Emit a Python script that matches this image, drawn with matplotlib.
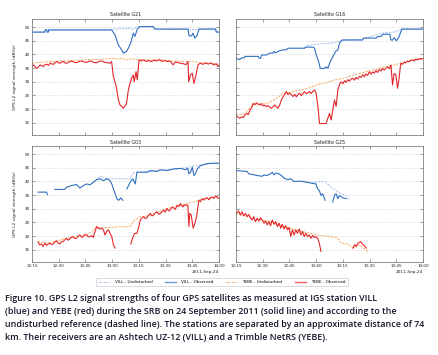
import numpy as np
import matplotlib
matplotlib.use('Agg')
import matplotlib.pyplot as plt
from matplotlib.lines import Line2D

nan = np.nan

# time axis: minutes after 12:15 UT
tick_pos = [0, 15, 30, 45, 60, 75, 90, 105]
tick_labels = ['12:15', '12:30', '12:45', '13:00', '13:15', '13:30', '13:45', '14:00']

# ---- Satellite G21 ----
g21_vill_obs_t = [0, 7.2, 7.4, 8.3, 8.5, 9.2, 9.4, 44.7, 46.6, 48.5, 50.3, 51.3, 53.1, 54.1, 55.4, 56.9,
                  57.8, 59.1, 60.6, 68.1, 69.0, 87.6, 88.2, 89.5, 90.4, 91.4, 92.7, 93.8, 103.1, 103.5, 105]
g21_vill_obs = [48.2, 48.2, 49.0, 49.0, 48.2, 48.2, 49.0, 49.0, 47.2, 43.5, 41.7, 40.5, 41.1, 42.3, 44.1, 47.8,
                46.6, 49.3, 50.2, 50.2, 49.3, 49.3, 46.8, 46.8, 47.8, 46.0, 47.0, 49.3, 49.3, 48.2, 48.2]
g21_vill_und_t = [0, 7.2, 7.4, 44.7, 46, 47.5, 49, 50.5, 52, 53.5, 55, 56.5, 58, 59.5, 68.1, 69.0, 86, 88, 90,
                  92, 94, 103.1, 103.5, 105]
g21_vill_und = [48.2, 48.2, 49.0, 49.0, 49.6, 49.0, 49.8, 49.2, 49.9, 49.3, 49.8, 49.2, 49.7, 50.2, 50.2, 49.3,
                49.3, 49.0, 49.1, 49.0, 49.3, 49.3, 48.2, 48.2]
g21_yebe_obs_t = [0, 0.9, 1.8, 2.8, 3.7, 4.6, 5.5, 6.5, 7.4, 8.4, 9.3, 10.2, 11.2, 12.1, 13.0, 14.0, 14.9, 15.8,
                  16.8, 17.7, 18.6, 19.6, 21.0, 22.4, 23.8, 25.2, 26.6, 28.0, 29.4, 30.8, 32.2, 33.6, 35.0, 36.4,
                  37.8, 39.2, 40.6, 42.0, 43.8, 44.7, 45.7, 46.6, 47.5, 48.5, 49.4, 50.3, 51.3, 52.2, 53.1, 54.1,
                  55.0, 55.9, 56.9, 57.4, 58.4, 59.1, 60.1, 61.3, 62.5, 64, 65.5, 67, 68.5, 70, 71.5, 73, 74.5, 76,
                  77.5, 79.3, 80.5, 82, 83.5, 85, 86.5, 87.6, 88.0, 88.9, 90.0, 90.9, 91.9, 93.2, 94.5, 96, 97.5,
                  99, 100.5, 102, 103.5, 104.4, 105]
g21_yebe_obs = [35.6, 36.2, 35.4, 34.9, 35.5, 36.2, 35.8, 35.6, 36.3, 36.4, 36.0, 36.8, 36.5, 36.4, 37.0, 37.4,
                36.9, 36.8, 37.3, 37.4, 36.9, 36.8, 37.3, 37.6, 37.1, 37.0, 37.5, 37.6, 37.2, 37.1, 37.6, 37.5,
                37.0, 37.0, 37.5, 37.6, 37.2, 37.0, 36.8, 37.4, 31.9, 30.0, 27.6, 23.3, 21.5, 21.1, 20.3, 21.1,
                22.1, 27.0, 29.4, 31.3, 32.5, 30.0, 33.7, 30.7, 38.0, 37.6, 38.0, 37.5, 37.8, 37.4, 37.9, 37.6,
                38.1, 37.5, 37.8, 37.4, 37.6, 36.2, 37.3, 37.0, 36.8, 36.6, 36.3, 37.4, 30.0, 32.5, 33.1, 29.4,
                31.9, 36.2, 36.8, 36.4, 36.9, 36.5, 36.9, 36.2, 36.6, 35.6, 36.0]
g21_yebe_und_t = [0, 5, 10.2, 15, 20, 25, 28.9, 33, 38, 42, 45.7, 48, 50, 53.1, 56, 60, 66.2, 72, 79.3, 86.7,
                  90, 94.2, 100, 105]
g21_yebe_und = [36.8, 37.1, 37.4, 37.6, 37.7, 37.9, 38.0, 38.2, 38.1, 38.4, 38.6, 38.3, 38.6, 38.0, 38.4, 38.2,
                38.0, 38.1, 37.6, 37.4, 37.5, 37.0, 36.8, 36.4]

# ---- Satellite G16 ----
g16_vill_obs_t = [0, 1.3, 2.2, 3.2, 4.8, 5.0, 12.5, 13.0, 13.8, 14.3, 17.1, 19.0, 20.8, 21.3, 22.2, 24.6, 26.4,
                  28.3, 29.2, 38.5, 39.5, 43.2, 44.1, 45.1, 46.4, 47.3, 49.7, 50.7, 51.6, 52.9, 54.4, 55.9, 57.2,
                  58.1, 59.6, 71.1, 71.5, 78.6, 79.5, 81.4, 82.3, 86.4, 87.0, 88.0, 88.8, 90.1, 91.6, 93.1, 105]
g16_vill_obs = [38.8, 38.2, 38.2, 38.8, 38.8, 39.3, 39.3, 38.6, 38.6, 39.8, 39.8, 40.5, 40.5, 41.1, 40.6, 41.4,
                41.7, 41.7, 42.3, 42.3, 42.7, 42.7, 42.3, 39.8, 37.4, 34.9, 34.9, 35.5, 34.9, 37.4, 39.2, 41.1,
                41.7, 44.1, 45.3, 45.3, 46.0, 46.0, 46.6, 46.6, 47.4, 47.4, 45.3, 45.3, 46.2, 45.0, 46.6, 49.3, 49.3]
g16_vill_und_t = [38.5, 39.5, 44, 48, 52, 56, 59.6, 71, 80, 84, 88, 91.6, 93.1, 105]
g16_vill_und = [42.3, 43.3, 43.6, 43.9, 44.1, 44.4, 45.3, 45.6, 47.6, 48.0, 48.2, 48.7, 49.3, 49.3]
g16_yebe_obs_t = [0, 1.1, 2.2, 3.2, 4.1, 5.0, 6.0, 6.9, 7.8, 8.8, 9.7, 10.6, 11.5, 12.5, 13.4, 14.3, 15.2, 16.2,
                  17.1, 18.0, 19.0, 19.9, 20.9, 21.8, 22.7, 23.6, 24.6, 25.5, 26.4, 27.4, 28.3, 29.2, 30.2, 31.1,
                  32.0, 33.0, 33.9, 34.8, 35.7, 36.7, 37.6, 38.5, 39.5, 40.4, 41.3, 42.2, 43.2, 44.1, 45.0, 46.0,
                  46.9, 50.6, 51.5, 52.5, 53.4, 54.3, 55.3, 56.2, 57.2, 58.1, 59.0, 60.0, 60.9, 61.8, 62.8, 63.7,
                  64.6, 65.5, 66.5, 67.4, 68.3, 69.3, 70.2, 71.1, 72.1, 73.0, 73.9, 74.9, 75.8, 76.7, 77.7, 78.6,
                  79.5, 80.4, 81.4, 82.3, 83.3, 84.2, 85.1, 86.1, 87.0, 87.9, 88.8, 89.8, 90.7, 91.6, 92.5, 93.5,
                  94.4, 95.3, 96.3, 97.2, 98.1, 99.1, 100.0, 100.9, 101.9, 102.8, 103.7, 105]
g16_yebe_obs = [17.8, 17.0, 16.6, 17.2, 16.9, 17.8, 18.4, 18.0, 19.6, 20.5, 22.1, 21.6, 22.3, 21.8, 21.5, 22.0,
                21.2, 21.4, 20.9, 21.3, 20.6, 20.3, 21.0, 21.5, 20.8, 20.3, 21.6, 23.4, 24.5, 25.5, 26.4, 25.3,
                25.9, 25.2, 24.6, 25.4, 24.5, 25.3, 25.8, 24.9, 25.8, 26.4, 25.6, 26.0, 26.4, 25.7, 26.5, 27.0,
                25.8, 20.9, 14.7, 14.7, 16.5, 18.4, 16.0, 19.5, 23.3, 21.0, 27.0, 29.0, 30.0, 29.3, 30.4, 29.8,
                30.8, 30.2, 31.0, 31.3, 30.6, 31.6, 31.0, 32.0, 31.6, 32.6, 31.8, 32.9, 32.3, 33.7, 32.8, 33.6,
                33.2, 34.1, 33.4, 34.5, 34.0, 34.8, 34.3, 35.0, 35.4, 34.8, 36.2, 28.8, 33.1, 32.5, 27.6, 31.5,
                36.8, 36.4, 37.2, 36.9, 37.6, 37.3, 37.9, 38.0, 37.6, 38.3, 38.0, 38.5, 38.2, 38.6]
g16_yebe_und_t = [0, 5, 9.7, 17.1, 22, 26.4, 33.9, 40.5, 46, 50.6, 55, 60, 65.5, 70, 75, 80, 84.2, 88, 93.5,
                  99, 105]
g16_yebe_und = [17.8, 18.3, 21.8, 22.0, 23.5, 25.8, 26.6, 27.6, 29.0, 29.6, 30.6, 31.2, 32.4, 33.2, 34.0, 34.8,
                35.6, 36.0, 37.0, 38.0, 38.6]

# ---- Satellite G03 ----
g03_vill_obs_t = [3.4, 8.1, 8.7, 10, 12.8, 18.4, 19.4, 22.2, 25.0, 26.9, 28.8, 30.7, 32.6, 34.4, 36.3, 38.2,
                  40.1, 42.0, 43.8, 44.8, 45.7, 46.7, 47.6, 48.6, 49.9, 51.0, 52, 53.3, 54.2, 55.1, 56.6, 58.0,
                  58.9, 64.5, 66.4, 70.2, 72.1, 75.8, 79.6, 83.4, 86.2, 87.5, 88.1, 89.0, 90.0, 90.9, 91.8, 92.8,
                  94.6, 97.5, 99.4, 102.2, 105]
g03_vill_obs = [36.1, 36.1, 35.2, nan, 37.1, 37.1, 37.9, 38.5, 38.9, 37.6, 38.5, 39.1, 38.8, 39.7, 40.7, 41.0,
                40.3, 41.0, 40.3, 39.1, 37.3, 35.5, 33.7, 33.1, 34.0, 33.1, nan, 37.3, 38.5, 39.7, 41.0, 39.1,
                43.4, 43.4, 44.0, 43.7, 44.3, 44.0, 44.6, 44.8, 44.3, 44.8, 42.8, 43.4, 45.2, 42.2, 42.8, 44.6,
                45.8, 46.4, 46.6, 46.7, 46.7]
g03_vill_und_t = [34.4, 36.3, 38.2, 40.1, 42.0, 55.1, 56.6, 58.0, 64.5, 86.2, 89.0, 94.6, 97.5, 105]
g03_vill_und = [39.7, 40.7, 41.9, 41.5, 41.0, 41.0, 42.8, 43.4, 43.4, 45.0, 45.5, 46.0, 46.4, 46.7]
g03_yebe_obs_t = [3.4, 4.3, 5.3, 6.2, 7.2, 8.1, 9.0, 10.0, 11.0, 11.9, 12.8, 13.7, 14.6, 15.6, 16.5, 17.5, 18.4,
                  19.4, 20.3, 21.3, 22.2, 23.1, 24.0, 25.0, 26.0, 26.9, 27.8, 28.8, 29.7, 30.7, 31.6, 32.6, 33.5,
                  34.4, 35.4, 36.3, 37.3, 38.2, 39.2, 40.1, 41.0, 42.0, 42.9, 43.8, 44.8, 45.7, 46.7, 50, 55.5,
                  56.5, 57.6, 58.9, 59.8, 60.8, 61.7, 62.7, 63.6, 64.5, 65.5, 66.4, 67.4, 68.3, 69.2, 70.2, 71.1,
                  72.1, 73.0, 74.0, 74.9, 75.8, 76.8, 77.7, 78.7, 79.6, 80.5, 81.5, 82.4, 83.4, 84.2, 84.9, 85.5,
                  86.2, 87.5, 88.1, 88.6, 89.4, 90.5, 91.5, 92.4, 93.7, 94.6, 95.6, 96.5, 97.5, 98.4, 99.3, 100.2,
                  101.2, 102.1, 103.1, 104.0, 105]
g03_yebe_obs = [17.8, 16.8, 17.1, 16.2, 17.4, 16.6, 17.0, 17.4, 16.9, 17.1, 17.8, 18.3, 17.5, 17.1, 17.9, 18.0,
                18.6, 19.2, 18.5, 19.0, 19.6, 19.8, 19.1, 19.2, 20.0, 20.4, 19.6, 19.8, 20.5, 20.4, 19.7, 19.8,
                20.2, 19.5, 21.7, 23.5, 22.9, 22.6, 22.9, 22.3, 20.4, 21.7, 22.3, 21.0, 19.8, 16.8, 15.6, nan,
                17.1, 19.2, 21.0, 21.0, 22.9, 25.9, 26.6, 27.1, 26.4, 26.7, 27.6, 28.3, 27.4, 27.7, 28.5, 28.9,
                28.0, 28.3, 29.0, 29.5, 28.8, 30.1, 29.2, 29.7, 30.6, 30.3, 29.8, 31.3, 30.8, 31.9, 31.0, 30.7,
                31.5, 31.3, 31.3, 23.5, 28.3, 27.7, 22.9, 24.7, 27.1, 33.1, 32.6, 33.7, 33.2, 33.9, 34.0, 33.3,
                34.1, 34.3, 33.8, 34.7, 34.2, 33.7]
g03_yebe_und_t = [3.4, 8.1, 15, 19.4, 24, 28.8, 32, 35.4, 38.2, 43.8, 49, 54, 55.1, 57.6, 60.5, 64.5, 70, 75.8,
                  80, 83.4, 87, 90.9, 94.6, 100, 105]
g03_yebe_und = [18.0, 17.4, 18.4, 19.2, 19.8, 20.4, 20.8, 22.9, 23.1, 23.1, 23.5, 23.3, 23.6, 25.9, 27.1, 27.4,
                28.6, 30.1, 30.8, 31.3, 31.9, 32.5, 33.4, 33.9, 34.3]

# ---- Satellite G25 ----
g25_vill_obs_t = [0, 6.2, 7.2, 11.9, 14.7, 15.7, 17.5, 19.4, 20.4, 21.3, 22.3, 24.2, 26.0, 27.0, 28.9, 30.8,
                  32.6, 36.4, 40.2, 42.1, 44.9, 45.8, 46.8, 47.7, 48.7, 50.0, 52, 54.3, 55.3, 56.2, 57.2, 58.1,
                  60.0, 61.9]
g25_vill_obs = [44.0, 43.7, 42.8, 42.2, 41.9, 42.4, 42.2, 42.8, 43.4, 42.4, 43.1, 42.8, 41.9, 41.2, 40.7, 41.0,
                40.0, 40.1, 39.7, 39.4, 39.1, 37.3, 36.7, 34.9, 35.5, 33.1, nan, 32.5, 34.9, 35.5, 33.7, 34.9,
                34.0, 33.7]
g25_vill_und_t = [36.4, 40.2, 44.9, 46.8, 49.6, 51.5, 53.4, 56.2, 59.1, 61.9, 63.8]
g25_vill_und = [40.1, 39.7, 39.7, 40.0, 40.0, 39.1, 37.9, 36.7, 35.5, 34.9, 33.1]
g25_yebe_obs_t = [0, 1.5, 2.5, 3.4, 4.3, 5.3, 6.2, 7.2, 8.1, 9.1, 10.0, 10.9, 11.9, 12.8, 13.8, 14.7, 15.7, 16.6,
                  17.5, 18.5, 19.4, 20.4, 21.3, 22.3, 23.2, 24.2, 25.1, 26.0, 27.0, 27.9, 28.9, 29.8, 30.8, 31.7,
                  32.6, 33.6, 34.5, 35.5, 36.4, 37.4, 38.3, 39.2, 40.2, 41.1, 42.1, 43.0, 44.0, 44.9, 45.8, 46.8,
                  47.7, 55, 65.7, 66.6, 67.5, 68.5, 70.0, 70.9, 71.9, 73.2]
g25_yebe_obs = [28.3, 29.1, 27.7, 28.9, 27.4, 28.3, 27.1, 27.9, 26.7, 25.9, 27.1, 25.3, 26.5, 25.5, 26.7, 25.9,
                24.7, 25.5, 24.1, 25.3, 23.8, 25.9, 24.3, 25.3, 23.5, 24.7, 22.9, 24.3, 22.6, 23.8, 22.3, 23.1,
                19.8, 22.3, 20.4, 22.3, 21.0, 22.6, 20.4, 21.7, 19.8, 21.0, 19.8, 20.4, 19.2, 20.2, 19.5, 19.8,
                19.2, 17.4, 14.4, nan, 15.6, 16.8, 16.2, 17.4, 18.0, 17.1, 16.6, 15.6]
g25_yebe_und_t = [0, 10, 19.4, 28.9, 38.3, 45.8, 49.6, 53.4, 56.2, 57.2, 59.1, 62.8, 65.7, 67.5, 69.4, 71.3,
                  73.2, 74.2]
g25_yebe_und = [28.3, 26.5, 25.3, 23.1, 21.5, 20.4, 20.0, 19.8, 19.5, 19.2, 17.4, 17.1, 15.6, 16.2, 16.8, 15.6,
                15.0, 13.8]

panels = [
    ('Satellite G21', g21_vill_und_t, g21_vill_und, g21_vill_obs_t, g21_vill_obs,
     g21_yebe_und_t, g21_yebe_und, g21_yebe_obs_t, g21_yebe_obs),
    ('Satellite G16', g16_vill_und_t, g16_vill_und, g16_vill_obs_t, g16_vill_obs,
     g16_yebe_und_t, g16_yebe_und, g16_yebe_obs_t, g16_yebe_obs),
    ('Satellite G03', g03_vill_und_t, g03_vill_und, g03_vill_obs_t, g03_vill_obs,
     g03_yebe_und_t, g03_yebe_und, g03_yebe_obs_t, g03_yebe_obs),
    ('Satellite G25', g25_vill_und_t, g25_vill_und, g25_vill_obs_t, g25_vill_obs,
     g25_yebe_und_t, g25_yebe_und, g25_yebe_obs_t, g25_yebe_obs),
]

C_VILL_UND = '#a7c0ec'
C_VILL_OBS = '#2f6fc1'
C_YEBE_UND = '#f6ac66'
C_YEBE_OBS = '#e3262b'
DASH = (0, (2.4, 1.2))

fig = plt.figure(figsize=(4.39, 3.55), dpi=100)
W, H = 439.0, 355.0
boxes = [(32, 19), (236, 19), (32, 146), (236, 146)]  # left, top in px

for i, (title, vut, vu, vot, vo, yut, yu, yot, yo) in enumerate(panels):
    x0, y0 = boxes[i]
    ax = fig.add_axes([x0 / W, 1 - (y0 + 116) / H, 187 / W, 116 / H])
    ax.plot(vut, vu, color=C_VILL_UND, lw=0.7, linestyle=DASH)
    ax.plot(vot, vo, color=C_VILL_OBS, lw=0.8)
    ax.plot(yut, yu, color=C_YEBE_UND, lw=0.7, linestyle=DASH)
    ax.plot(yot, yo, color=C_YEBE_OBS, lw=0.8)

    ax.set_xlim(0, 105)
    ax.set_ylim(10.5, 53)
    ax.set_xticks(tick_pos)
    ax.set_yticks([15, 20, 25, 30, 35, 40, 45, 50])
    ax.yaxis.grid(True, linestyle=(0, (2, 2)), color='#c8c8c8', lw=0.4)
    ax.set_axisbelow(True)
    ax.tick_params(direction='in', length=2, width=0.4, top=True, right=True,
                   labelsize=3, pad=1.5, colors='#555555', labelcolor='#222222')
    for s in ax.spines.values():
        s.set_color('#808080')
        s.set_linewidth(0.6)
    ax.set_title(title, fontsize=3.4, pad=1.8, color='#222222')

    if i < 2:
        ax.set_xticklabels([])
    else:
        ax.set_xticklabels(tick_labels)
        ax.text(1.0, -0.085, '2011-Sep-24', transform=ax.transAxes, ha='right', va='center',
                fontsize=3.1, color='#222222')
    if i % 2 == 1:
        ax.set_yticklabels([])
    else:
        ax.set_ylabel('GPS L2 signal strength (dBHz)', fontsize=3.2, color='#222222')
        ax.yaxis.set_label_coords(-0.08, 0.5)

handles = [Line2D([], [], color=C_VILL_UND, lw=1.0, linestyle=DASH, alpha=0.7),
           Line2D([], [], color=C_VILL_OBS, lw=1.0, alpha=0.7),
           Line2D([], [], color=C_YEBE_UND, lw=1.0, linestyle=DASH, alpha=0.7),
           Line2D([], [], color=C_YEBE_OBS, lw=1.0, alpha=0.7)]
labels = ['VILL - Undisturbed', 'VILL - Observed', 'YEBE - Undisturbed', 'YEBE - Observed']
leg = fig.legend(handles, labels, loc='center', bbox_to_anchor=(222 / W, 1 - 282 / H), ncol=4,
                 fontsize=3, frameon=True, fancybox=False, handlelength=2.6, handletextpad=1.3,
                 columnspacing=3.0, borderpad=0.5)
leg.get_frame().set_edgecolor('#c0c0c0')
leg.get_frame().set_linewidth(0.5)

caption = [
    'Figure 10. GPS L2 signal strengths of four GPS satellites as measured at IGS station VILL',
    '(blue) and YEBE (red) during the SRB on 24 September 2011 (solid line) and according to the',
    'undisturbed reference (dashed line). The stations are separated by an approximate distance of 74',
    'km. Their receivers are an Ashtech UZ-12 (VILL) and a Trimble NetRS (YEBE).',
]
for k, line in enumerate(caption):
    fig.text(5 / W, 1 - (301 + 13 * k) / H, line, fontsize=6.4, family='Open Sans',
             weight='semibold', color='#15152a', va='baseline', ha='left')

fig.savefig('out.png', dpi=100)
